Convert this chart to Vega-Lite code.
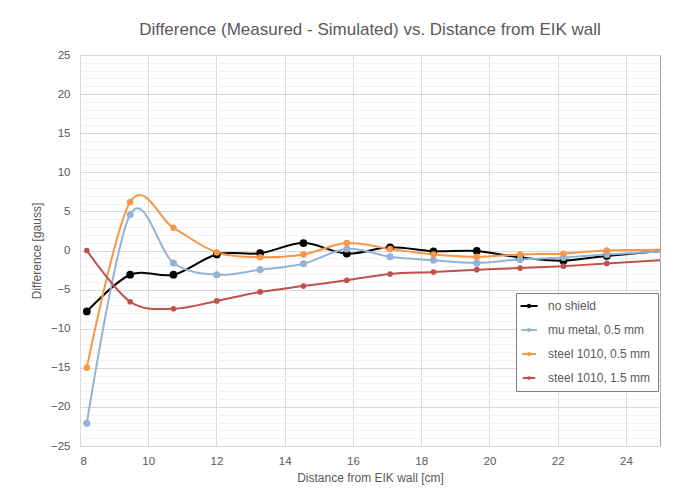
{
  "$schema": "https://vega.github.io/schema/vega-lite/v6.json",
  "width": 580,
  "height": 391,
  "autosize": {"type": "none"},
  "padding": {"left": 80, "top": 55, "right": 18, "bottom": 48},
  "background": "white",
  "title": {"text": "Difference (Measured - Simulated) vs. Distance from EIK wall", "fontSize": 17, "font": "Liberation Sans", "fontWeight": "normal", "color": "#595959", "offset": 10, "anchor": "middle"},
  "config": {
    "view": {"stroke": "#A6A6A6", "strokeWidth": 1},
    "axis": {"labelFont": "Liberation Sans", "titleFont": "Liberation Sans", "labelColor": "#595959", "titleColor": "#595959", "labelFontSize": 11.5, "titleFontSize": 12, "titleFontWeight": "normal", "domain": false, "ticks": false}
  },
  "data": {"values": [
    {"x": 8.2, "y": -7.8, "series": "no shield"},
    {"x": 9.47, "y": -3.1, "series": "no shield"},
    {"x": 10.74, "y": -3.1, "series": "no shield"},
    {"x": 12.01, "y": -0.5, "series": "no shield"},
    {"x": 13.28, "y": -0.35, "series": "no shield"},
    {"x": 14.55, "y": 0.95, "series": "no shield"},
    {"x": 15.82, "y": -0.4, "series": "no shield"},
    {"x": 17.09, "y": 0.4, "series": "no shield"},
    {"x": 18.36, "y": -0.1, "series": "no shield"},
    {"x": 19.63, "y": -0.05, "series": "no shield"},
    {"x": 20.9, "y": -0.9, "series": "no shield"},
    {"x": 22.17, "y": -1.3, "series": "no shield"},
    {"x": 23.44, "y": -0.7, "series": "no shield"},
    {"x": 26, "y": 0.3, "series": "no shield"},
    {"x": 8.2, "y": -22.1, "series": "mu metal, 0.5 mm"},
    {"x": 9.47, "y": 4.6, "series": "mu metal, 0.5 mm"},
    {"x": 10.74, "y": -1.6, "series": "mu metal, 0.5 mm"},
    {"x": 12.01, "y": -3.1, "series": "mu metal, 0.5 mm"},
    {"x": 13.28, "y": -2.45, "series": "mu metal, 0.5 mm"},
    {"x": 14.55, "y": -1.7, "series": "mu metal, 0.5 mm"},
    {"x": 15.82, "y": 0.2, "series": "mu metal, 0.5 mm"},
    {"x": 17.09, "y": -0.8, "series": "mu metal, 0.5 mm"},
    {"x": 18.36, "y": -1.25, "series": "mu metal, 0.5 mm"},
    {"x": 19.63, "y": -1.6, "series": "mu metal, 0.5 mm"},
    {"x": 20.9, "y": -1.15, "series": "mu metal, 0.5 mm"},
    {"x": 22.17, "y": -0.9, "series": "mu metal, 0.5 mm"},
    {"x": 23.44, "y": -0.5, "series": "mu metal, 0.5 mm"},
    {"x": 26, "y": 0.1, "series": "mu metal, 0.5 mm"},
    {"x": 8.2, "y": -15.0, "series": "steel 1010, 0.5 mm"},
    {"x": 9.47, "y": 6.2, "series": "steel 1010, 0.5 mm"},
    {"x": 10.74, "y": 2.9, "series": "steel 1010, 0.5 mm"},
    {"x": 12.01, "y": -0.25, "series": "steel 1010, 0.5 mm"},
    {"x": 13.28, "y": -0.85, "series": "steel 1010, 0.5 mm"},
    {"x": 14.55, "y": -0.5, "series": "steel 1010, 0.5 mm"},
    {"x": 15.82, "y": 0.95, "series": "steel 1010, 0.5 mm"},
    {"x": 17.09, "y": 0.2, "series": "steel 1010, 0.5 mm"},
    {"x": 18.36, "y": -0.5, "series": "steel 1010, 0.5 mm"},
    {"x": 19.63, "y": -0.8, "series": "steel 1010, 0.5 mm"},
    {"x": 20.9, "y": -0.5, "series": "steel 1010, 0.5 mm"},
    {"x": 22.17, "y": -0.4, "series": "steel 1010, 0.5 mm"},
    {"x": 23.44, "y": 0.0, "series": "steel 1010, 0.5 mm"},
    {"x": 26, "y": 0.1, "series": "steel 1010, 0.5 mm"},
    {"x": 8.2, "y": 0.0, "series": "steel 1010, 1.5 mm"},
    {"x": 9.47, "y": -6.55, "series": "steel 1010, 1.5 mm"},
    {"x": 10.74, "y": -7.45, "series": "steel 1010, 1.5 mm"},
    {"x": 12.01, "y": -6.45, "series": "steel 1010, 1.5 mm"},
    {"x": 13.28, "y": -5.3, "series": "steel 1010, 1.5 mm"},
    {"x": 14.55, "y": -4.55, "series": "steel 1010, 1.5 mm"},
    {"x": 15.82, "y": -3.8, "series": "steel 1010, 1.5 mm"},
    {"x": 17.09, "y": -3.0, "series": "steel 1010, 1.5 mm"},
    {"x": 18.36, "y": -2.75, "series": "steel 1010, 1.5 mm"},
    {"x": 19.63, "y": -2.45, "series": "steel 1010, 1.5 mm"},
    {"x": 20.9, "y": -2.25, "series": "steel 1010, 1.5 mm"},
    {"x": 22.17, "y": -2.0, "series": "steel 1010, 1.5 mm"},
    {"x": 23.44, "y": -1.65, "series": "steel 1010, 1.5 mm"},
    {"x": 26, "y": -1.0, "series": "steel 1010, 1.5 mm"}
  ]},
  "encoding": {
    "x": {"field": "x", "type": "quantitative",
      "scale": {"domain": [8, 25], "nice": false, "zero": false},
      "axis": {"title": "Distance from EIK wall [cm]", "values": [8, 10, 12, 14, 16, 18, 20, 22, 24], "gridColor": "#D9D9D9", "labelPadding": 9, "titlePadding": 6}},
    "y": {"field": "y", "type": "quantitative",
      "scale": {"domain": [-25, 25], "nice": false},
      "axis": {"title": "Difference [gauss]", "values": [-25,-24,-23,-22,-21,-20,-19,-18,-17,-16,-15,-14,-13,-12,-11,-10,-9,-8,-7,-6,-5,-4,-3,-2,-1,0,1,2,3,4,5,6,7,8,9,10,11,12,13,14,15,16,17,18,19,20,21,22,23,24,25],
        "labelExpr": "datum.value % 5 === 0 ? datum.label : ''",
        "gridColor": {"condition": {"test": "datum.value % 5 === 0", "value": "#D9D9D9"}, "value": "#F2F2F2"},
        "labelPadding": 10, "titlePadding": 7}},
    "color": {"field": "series", "type": "nominal",
      "scale": {"domain": ["no shield", "mu metal, 0.5 mm", "steel 1010, 0.5 mm", "steel 1010, 1.5 mm"], "range": ["#000000", "#95B3D7", "#F79646", "#C0504D"]},
      "legend": {"title": null, "orient": "none", "legendX": 436, "legendY": 238, "strokeColor": "#7F7F7F", "fillColor": "white", "padding": 7,
        "labelFont": "Liberation Sans", "labelFontSize": 12, "labelColor": "#595959", "rowPadding": 12,
        "symbolType": "M-2.2,0L2.2,0M-0.3,0A0.3,0.3 0 1,1 0.3,0A0.3,0.3 0 1,1 -0.3,0",
        "symbolStrokeWidth": 2, "labelOffset": 13}}
  },
  "layer": [
    {"mark": {"type": "line", "interpolate": "cardinal", "strokeWidth": 2, "clip": true}},
    {"mark": {"type": "point", "filled": true, "opacity": 1, "clip": true},
      "encoding": {"size": {"field": "series", "type": "nominal", "scale": {"domain": ["no shield", "mu metal, 0.5 mm", "steel 1010, 0.5 mm", "steel 1010, 1.5 mm"], "range": [60, 32, 32, 32]}, "legend": null}}}
  ]
}
